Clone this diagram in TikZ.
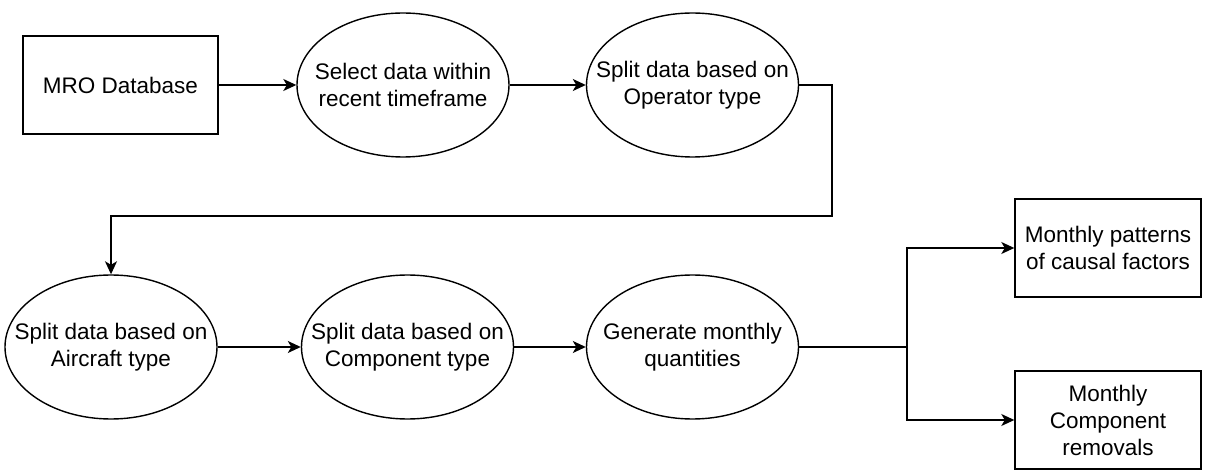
\documentclass[tikz,border=0pt]{standalone}
\usepackage{fontspec}
\setmainfont{Liberation Sans}
\usetikzlibrary{arrows.meta,shapes.geometric}
\begin{document}
\begin{tikzpicture}[x=1pt,y=-1pt,
  line width=1.4pt,
  every node/.style={font=\fontsize{22.5}{27}\selectfont},
  boxnode/.style={draw,rectangle,minimum width=195pt,minimum height=98pt,align=center,inner sep=0pt},
  ellnode/.style={draw,ellipse,minimum width=212pt,minimum height=144pt,inner sep=0pt},
  txtnode/.style={align=center,inner sep=0pt},
  arr/.style={-{Stealth[length=13pt,width=12pt,inset=3.5pt]}}
]
\useasboundingbox (0,0) rectangle (1208,470);
% row 1
\node[boxnode] (db) at (120.5,85) {MRO Database};
\node[ellnode] (e1) at (403,85) {};
\node[txtnode] (e1t) at (e1.center) {Select data within\\recent timeframe};
\node[ellnode] (e2) at (692.5,85) {};
\node[txtnode] (e2t) at (e2.center) {Split data based on\\Operator type};
% row 2
\node[ellnode] (e3) at (111,347) {};
\node[txtnode] (e3t) at (e3.center) {Split data based on\\Aircraft type};
\node[ellnode] (e4) at (407.5,347) {};
\node[txtnode] (e4t) at (e4.center) {Split data based on\\Component type};
\node[ellnode] (e5) at (692.5,347) {};
\node[txtnode] (e5t) at (e5.center) {Generate monthly\\quantities};
% outputs
\node[boxnode,minimum width=186pt] (o1) at (1108,248) {Monthly patterns\\of causal factors};
\node[boxnode,minimum width=186pt] (o2) at (1108,420) {Monthly\\Component\\removals};
% connectors
\coordinate (c1) at (832,216);
\coordinate (br) at (907,347);
\draw[arr] (db) -- (e1);
\draw[arr] (e1) -- (e2);
\draw[arr] (e2.east) -| (c1) -| (e3.north);
\draw[arr] (e3) -- (e4);
\draw[arr] (e4) -- (e5);
\draw (e5.east) -- (br);
\draw[arr] (br) |- (o1.west);
\draw[arr] (br) |- (o2.west);
\end{tikzpicture}
\end{document}
